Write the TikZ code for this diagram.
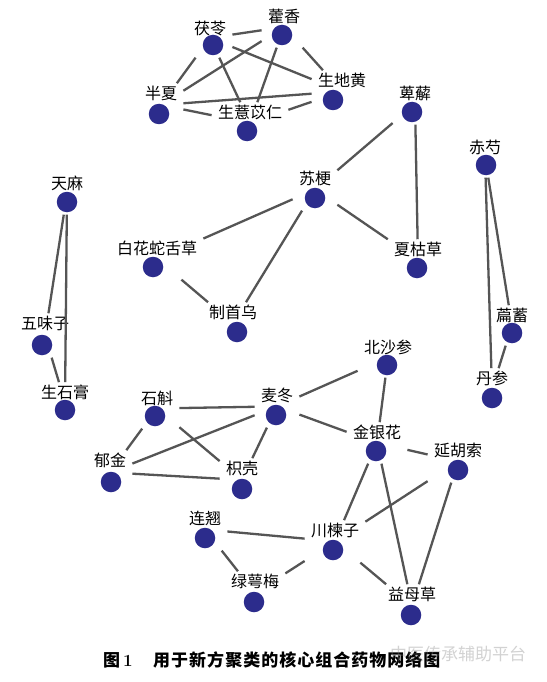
\documentclass[tikz,border=0pt]{standalone}
\usepackage{fontspec}
\newfontfamily\cjk{Noto Sans CJK SC}
\newfontfamily\cjkcap{Noto Sans CJK SC}[LetterSpace=6]
\usetikzlibrary{fit}
\definecolor{nodeblue}{RGB}{44,44,140}
\definecolor{edgegray}{RGB}{85,85,85}
\tikzset{
  dot/.style={circle,fill=nodeblue,minimum size=20.5pt,inner sep=0pt},
  lab/.style={inner sep=0pt,font=\cjk\fontsize{16pt}{18pt}\selectfont,text=black},
  hub/.style={inner xsep=6pt,inner ysep=2pt},
  edge/.style={draw=edgegray,line width=2.3pt},
}
% \hnode{name}{cx}{cy}{lx}{ly}{text}
\newcommand{\hnode}[6]{%
  \node[dot] (#1c) at (#2,#3) {};
  \node[lab] (#1l) at (#4,#5) {#6};
  \node[hub,fit=(#1c)(#1l)] (#1) {};
}
\begin{document}
\begin{tikzpicture}[x=1pt,y=-1pt]
\useasboundingbox[fill=white] (0,0) rectangle (546,682);
% top cluster
\hnode{fl}{213}{45}{210}{28}{茯苓}
\hnode{hx}{282}{35}{284}{16}{藿香}
\hnode{bx}{159}{114}{161}{93}{半夏}
\hnode{sdh}{333}{100}{342}{80}{生地黄}
\hnode{syr}{247}{131}{250}{112}{生薏苡仁}
% middle
\hnode{bxie}{412}{112}{415}{93}{萆薢}
\hnode{sg}{315}{198}{315}{178}{苏梗}
\hnode{bh}{153}{267}{157}{248}{白花蛇舌草}
\hnode{zsw}{237}{332}{233}{312}{制首乌}
\hnode{xkc}{417}{268}{418}{249}{夏枯草}
% left
\hnode{tm}{67}{202}{67}{183}{天麻}
\hnode{wwz}{42}{345}{45}{323}{五味子}
\hnode{ssg}{65}{410}{65}{392}{生石膏}
% right
\hnode{cs}{486}{165}{485}{147}{赤芍}
\hnode{bxu}{512}{333}{512}{315}{萹蓄}
\hnode{ds}{492}{398}{492}{378}{丹参}
% bottom cluster
\hnode{bss}{387}{365}{388}{347}{北沙参}
\hnode{sh}{155}{416}{157}{398}{石斛}
\hnode{md}{276}{415}{277}{395}{麦冬}
\hnode{jyh}{376}{451}{377}{432}{金银花}
\hnode{yhs}{458}{470}{458}{450}{延胡索}
\hnode{yj}{111}{482}{110}{460}{郁金}
\hnode{zk}{242}{489}{242}{468}{枳壳}
\hnode{lq}{205}{538}{205}{518}{连翘}
\hnode{clz}{333}{550}{335}{530}{川楝子}
\hnode{lem}{254}{602}{255}{581}{绿萼梅}
\hnode{ymc}{411}{615}{412}{594}{益母草}
% edges
\foreach \a/\b in {fl/hx,bx/fl,hx/sdh,bx/hx,fl/sdh,fl/syr,hx/syr,bx/sdh,bx/syr,syr/sdh,
  bxie/sg,bxie/xkc,sg/bh,sg/zsw,sg/xkc,bh/zsw,
  tm/wwz,tm/ssg,wwz/ssg,
  cs/bxu,cs/ds,bxu/ds,
  md/bss,bss/jyh,md/jyh,sh/md,sh/yj,sh/zk,yj/md,yj/zk,md/zk,jyh/yhs,jyh/clz,jyh/ymc,
  yhs/clz,yhs/ymc,lq/clz,lq/lem,clz/lem,clz/ymc}
  \draw[edge] (\a) -- (\b);
% caption
\node[anchor=west,inner sep=0pt,font=\cjk\bfseries\fontsize{17pt}{19pt}\selectfont] (cap1) at (103,660) {图\,{\rmfamily\bfseries 1}};
\node[anchor=west,inner sep=0pt,font=\cjkcap\bfseries\fontsize{17pt}{19pt}\selectfont] (cap2) at (153,660) {用于新方聚类的核心组合药物网络图};
\node[anchor=west,inner sep=0pt,font=\cjk\fontsize{17pt}{19pt}\selectfont,text=gray,opacity=0.35] (wm) at (390,654) {中医传承辅助平台};
\end{tikzpicture}
\end{document}
